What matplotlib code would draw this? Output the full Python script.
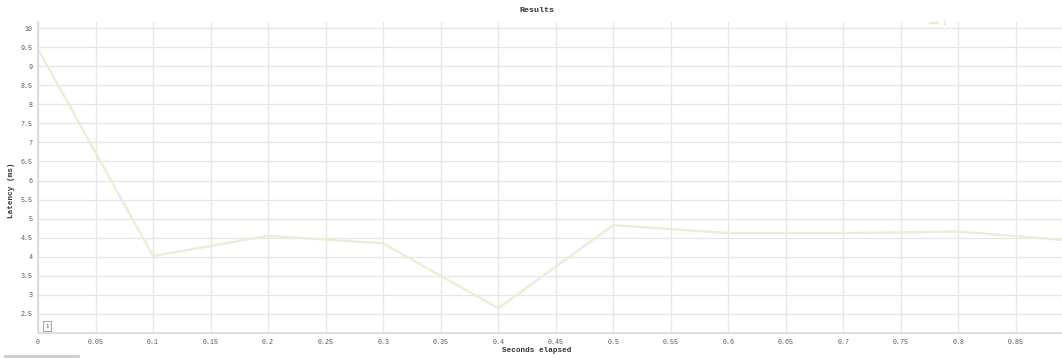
import numpy as np
import matplotlib
matplotlib.use("Agg")
import matplotlib.pyplot as plt

# -----------------------------
# Data
# -----------------------------
seconds = [0.0, 0.1, 0.2, 0.3, 0.4, 0.5, 0.6, 0.7, 0.8, 0.9]
latency = [9.45, 4.02, 4.55, 4.35, 2.65, 4.83, 4.62, 4.62, 4.66, 4.42]
x_ticks = np.arange(0, 0.90, 0.05)
x_labels = ["0", "0.05", "0.1", "0.15", "0.2", "0.25", "0.3", "0.35", "0.4",
            "0.45", "0.5", "0.55", "0.6", "0.65", "0.7", "0.75", "0.8", "0.85"]
y_ticks = np.arange(2.5, 10.01, 0.5)
y_labels = ["2.5", "3", "3.5", "4", "4.5", "5", "5.5", "6", "6.5", "7",
            "7.5", "8", "8.5", "9", "9.5", "10"]

plt.rcParams["font.family"] = ["Liberation Mono", "DejaVu Sans Mono"]

fig = plt.figure(figsize=(10.62, 3.6), dpi=100)
ax = fig.add_axes([38 / 1062, 1 - 333 / 360, 1 - 38 / 1062, (333 - 22) / 360])

# the series
ax.plot(seconds, latency, color="#ededd5", lw=1.7, solid_joinstyle="round")

ax.set_xlim(0, 0.89)
ax.set_ylim(2, 10 + 6 / 38 * 0.5 * 2)
ax.set_xticks(x_ticks)
ax.set_xticklabels(x_labels)
ax.set_yticks(y_ticks)
ax.set_yticklabels(y_labels)
ax.tick_params(labelsize=4.8, colors="#555555", length=0, pad=4)
ax.grid(True, color="#e6e6e6", lw=0.9)
ax.set_axisbelow(True)

for side in ["top", "right"]:
    ax.spines[side].set_visible(False)
for side in ["left", "bottom"]:
    ax.spines[side].set_color("#d8d8d8")
    ax.spines[side].set_linewidth(1.2)

# labels and title
fig.text(537 / 1062, 1 - 10 / 360, "Results", ha="center", va="center",
         fontsize=6, fontweight="bold", color="#333333")
fig.text(537 / 1062, 1 - 351 / 360, "Seconds elapsed", ha="center",
         va="center", fontsize=5.5, fontweight="bold", color="#333333")
fig.text(12 / 1062, 1 - 190 / 360, "Latency (ms)", ha="center", va="center",
         rotation=90, fontsize=5.5, fontweight="bold", color="#333333")

# little legend in the top right
ax.legend(["1"], loc="upper left", bbox_to_anchor=((925 - 38) / 1024, 1.02),
          frameon=False, fontsize=4, handlelength=1.5, labelcolor="#cfcfb0")

# small box at bottom left
fig.text(47 / 1062, 1 - 326 / 360, "1", ha="center", va="center", fontsize=4,
         color="#555555",
         bbox=dict(boxstyle="square,pad=0.4", fc="white", ec="#aaaaaa", lw=0.8))

# grey bar under the chart
fig.add_artist(plt.Line2D([5 / 1062, 78 / 1062], [1 - 356 / 360, 1 - 356 / 360],
                          color="#cccccc", lw=2))

plt.savefig("out.png", dpi=100)
